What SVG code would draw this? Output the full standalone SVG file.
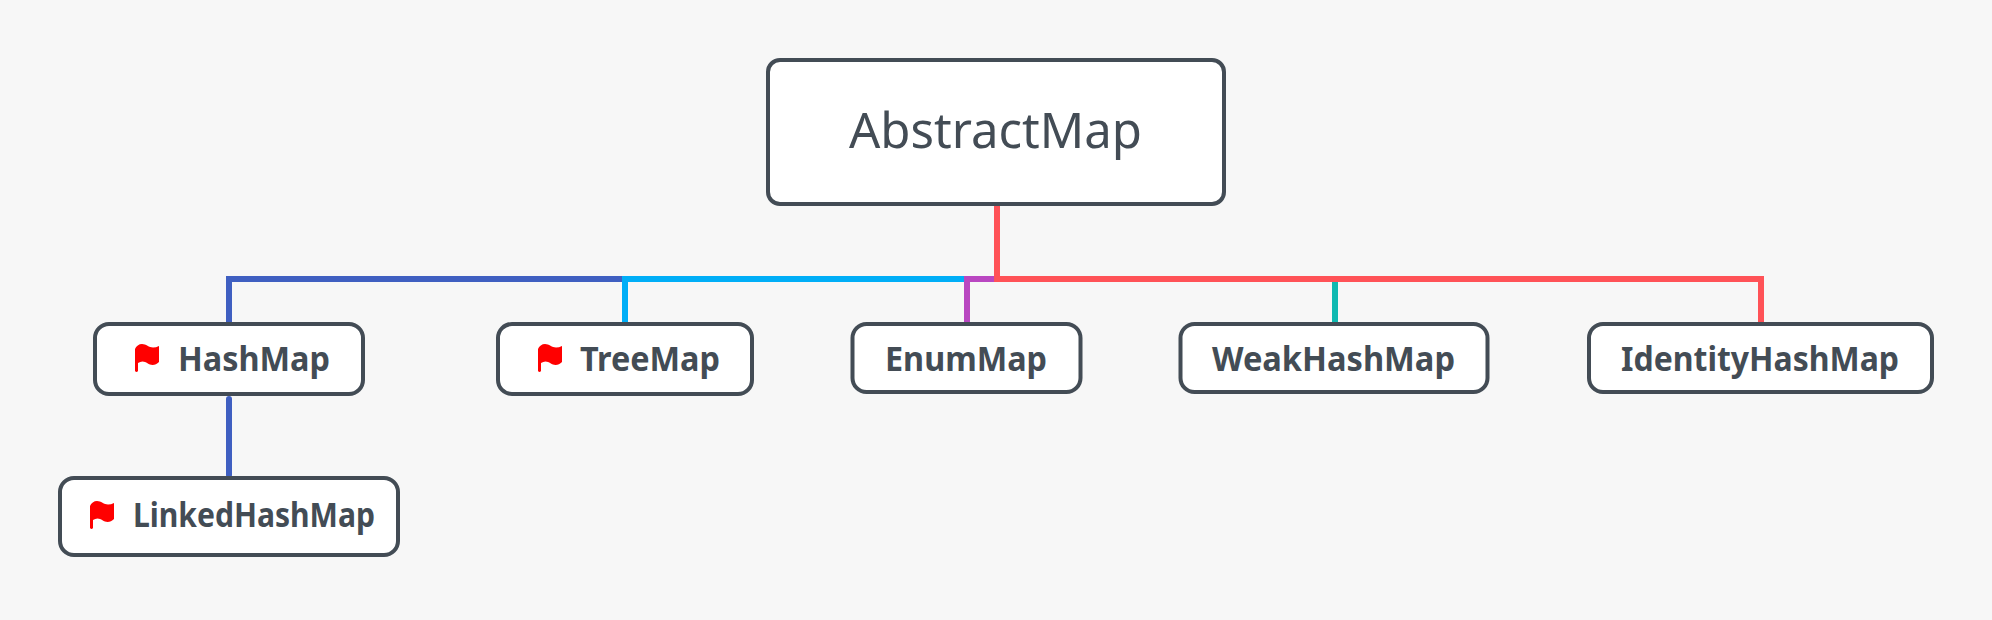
<svg xmlns="http://www.w3.org/2000/svg" width="1992" height="620" viewBox="0 0 1992 620">
<style>
.box{fill:#fff;stroke:#434c55;stroke-width:4}
.t{font-family:"Noto Sans","Open Sans",sans-serif;fill:#434c55;font-size:34px;font-weight:700}
.root{font-size:50px;font-weight:400}
.c{fill:none;stroke-width:6;stroke-linejoin:miter}
</style>
<defs>
<path id="flag" fill="#f00" d="M0,5 C1,2 4,0 7,0 C11,0 14,3.500 18,3.500 C20,3.500 22,3 24,2 L24,18 C22,20 20,21 17.500,21 C14,21 11,17.500 7.500,17.500 C6,17.500 4.500,18 3,19 L3,27 Q1.500,29 0,27 Z"/>
</defs>
<rect width="1992" height="620" fill="#f7f7f7"/>
<g id="connectors">
<path class="c" stroke="#0fb9b1" d="M1335,279V324"/>
<path class="c" stroke="#3f5fc1" d="M622,279H229V324"/>
<path class="c" stroke="#3f5fc1" stroke-linecap="round" d="M229,399V475"/>
<path class="c" stroke="#00aef7" d="M964,279H625V324"/>
<path class="c" stroke="#b947c1" d="M994,279H967V324"/>
<path class="c" stroke="#ff5257" d="M997,204V279H1761V324"/>
</g>
<g id="node-abstractmap"><rect class="box" x="768" y="60" width="456" height="144" rx="12"/><text class="t root" x="849" y="148" textLength="293" lengthAdjust="spacingAndGlyphs">AbstractMap</text></g>
<g id="node-hashmap"><rect class="box" x="95" y="324" width="268" height="70" rx="14"/><use href="#flag" x="135" y="344"/><text class="t" x="178" y="371" textLength="152" lengthAdjust="spacingAndGlyphs">HashMap</text></g>
<g id="node-treemap"><rect class="box" x="498" y="324" width="254" height="70" rx="14"/><use href="#flag" x="538" y="344"/><text class="t" x="580" y="371" textLength="140" lengthAdjust="spacingAndGlyphs">TreeMap</text></g>
<g id="node-enummap"><rect class="box" x="852.500" y="324" width="228" height="68" rx="14"/><text class="t" x="885" y="371" textLength="162" lengthAdjust="spacingAndGlyphs">EnumMap</text></g>
<g id="node-weakhashmap"><rect class="box" x="1180.500" y="324" width="307" height="68" rx="14"/><text class="t" x="1212" y="371" textLength="243" lengthAdjust="spacingAndGlyphs">WeakHashMap</text></g>
<g id="node-identityhashmap"><rect class="box" x="1589" y="324" width="343" height="68" rx="14"/><text class="t" x="1621" y="371" textLength="278" lengthAdjust="spacingAndGlyphs">IdentityHashMap</text></g>
<g id="node-linkedhashmap"><rect class="box" x="60" y="478" width="338" height="77" rx="14"/><use href="#flag" x="90" y="501"/><text class="t" x="133" y="527" textLength="242" lengthAdjust="spacingAndGlyphs">LinkedHashMap</text></g>
</svg>
